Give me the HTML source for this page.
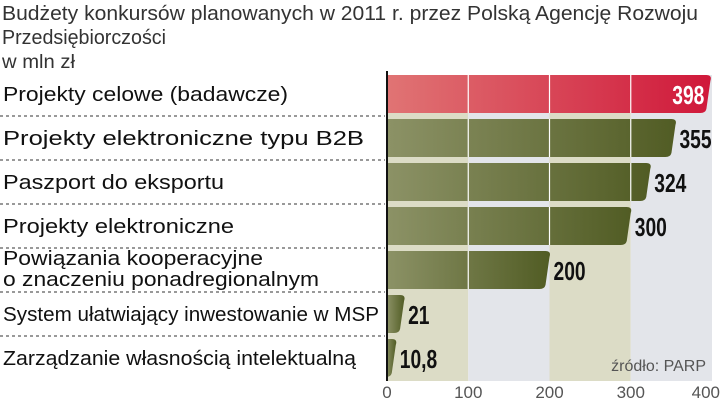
<!DOCTYPE html>
<html><head><meta charset="utf-8"><style>
body{margin:0;width:720px;height:401px;background:#fff;overflow:hidden;font-family:"Liberation Sans","DejaVu Sans",sans-serif;}
</style></head><body>
<svg width="720" height="401" xmlns="http://www.w3.org/2000/svg">
<defs>
<linearGradient id="gOl" x1="0" x2="1"><stop offset="0" stop-color="#8c9266"/><stop offset="1" stop-color="#515c24"/></linearGradient>
<linearGradient id="gRd" x1="0" x2="1"><stop offset="0" stop-color="#e07474"/><stop offset="1" stop-color="#d0183a"/></linearGradient>
</defs>
<g id="title" font-size="20" fill="#333">
<text x="2" y="20" textLength="696" lengthAdjust="spacingAndGlyphs">Budżety konkursów planowanych w 2011 r. przez Polską Agencję Rozwoju</text>
<text x="2" y="44" textLength="164" lengthAdjust="spacingAndGlyphs">Przedsiębiorczości</text>
<text x="2" y="68" font-size="19" textLength="73" lengthAdjust="spacingAndGlyphs">w mln zł</text>
</g>
<g id="bg"></g><g id="bars"></g><g id="labels"></g><g id="axis"></g>
<text x="706" y="371" text-anchor="end" font-size="16" fill="#555">źródło: PARP</text>
</svg>
<script>
const categories=[["Projekty celowe (badawcze)"],["Projekty elektroniczne typu B2B"],["Paszport do eksportu"],["Projekty elektroniczne"],["Powiązania kooperacyjne","o znaczeniu ponadregionalnym"],["System ułatwiający inwestowanie w MSP"],["Zarządzanie własnością intelektualną"]];
const values=[398,355,324,300,200,21,10.8];
const valueLabels=["398","355","324","300","200","21","10,8"];
const ticks=[0,100,200,300,400];
const labelWidths=[[285],[361],[221],[231],[260,316],[376],[353]];
const NS="http://www.w3.org/2000/svg";
const x0=387,xs=0.8125,topY=75,rowH=44,barH=38,bottomY=381;
const X=v=>x0+v*xs;
function el(t,a,p){const e=document.createElementNS(NS,t);for(const k in a)e.setAttribute(k,a[k]);document.getElementById(p).appendChild(e);return e;}
for(let i=0;i<ticks.length-1;i++){
 const r=el('rect',{x:X(ticks[i]),y:topY,width:X(ticks[i+1])-X(ticks[i]),height:bottomY-topY,fill:i%2==0?'#dcdcc6':'#e3e5ea'},'bg');
 
 
}
values.forEach((v,i)=>{
 const y=topY+i*rowH,w=X(v)-x0,red=i===0;
 const p=el('path',{d:`M${x0},${y} H${x0+w-4} Q${x0+w+2},${y} ${x0+w},${y+6} L${x0+w-4},${y+barH-4} Q${x0+w-5},${y+barH} ${x0+w-10},${y+barH} H${x0} Z`,fill:red?'url(#gRd)':'url(#gOl)'},'bars');
 
 
 ticks.slice(1,4).forEach(t=>{if(X(t)<x0+w-4){const g=el('line',{x1:X(t),x2:X(t),y1:y,y2:y+barH,stroke:'#fff','stroke-width':1.2},'bars');
  
  }});
 const tx=red?x0+w-6:x0+w+4;
 const vt=el('text',{x:0,y:0,'font-size':26,'font-weight':'bold',fill:red?'#fff':'#111','text-anchor':red?'end':'start',transform:`translate(${tx},${y+barH/2+10}) scale(0.74,1)`},'labels');
 vt.textContent=valueLabels[i];
 
 
 const lines=categories[i];
 lines.forEach((s,j)=>{
  const t=el('text',{x:3,y:lines.length>1?y+14+j*21:y+barH/2+7,'font-size':20,fill:'#111',textLength:labelWidths[i][j],lengthAdjust:'spacingAndGlyphs'},'labels');
  t.textContent=s;
  
  
 });
 if(i>0){const d=el('line',{x1:0,x2:x0-2,y1:y-3,y2:y-3,stroke:'#333','stroke-dasharray':'3,3','stroke-width':1},'labels');
  
  }
});
const ax=el('line',{x1:x0,x2:x0,y1:topY-4,y2:bottomY,stroke:'#111','stroke-width':2},'axis');


ticks.forEach(t=>{const tt=el('text',{x:t===400?X(t)+8:X(t),y:398,'font-size':17,fill:'#555','text-anchor':t===400?'end':'middle'},'axis');
 tt.textContent=t;
 
 });
</script>
</body></html>
